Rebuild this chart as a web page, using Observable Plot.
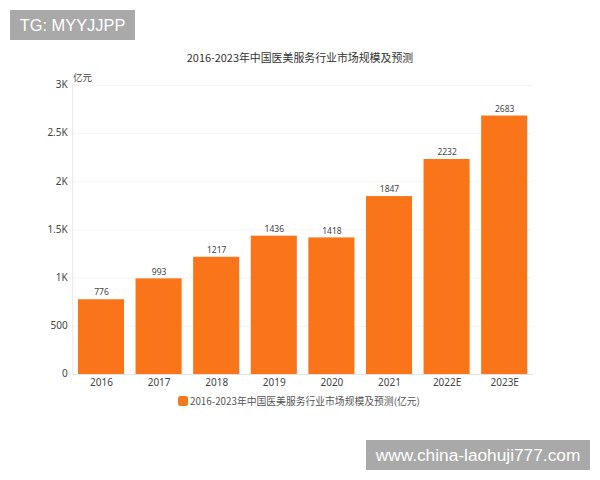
<!DOCTYPE html>
<html><head><meta charset="utf-8">
<script src="https://cdn.jsdelivr.net/npm/d3@7"></script>
<script src="https://cdn.jsdelivr.net/npm/@observablehq/plot@0.6"></script>
<style>
html,body{margin:0;padding:0;background:#fff;width:600px;height:480px;overflow:hidden}
#wrap{position:relative;width:600px;height:480px;font-family:"Noto Sans CJK SC","Noto Sans",sans-serif}
#wrap svg{position:absolute;left:0;top:0}
.abs{position:absolute;white-space:nowrap}
.wm{background:#a9a9a9;color:#fff;font-family:"Liberation Sans",sans-serif;line-height:30px;text-align:center;height:30px}
</style></head><body><div id="wrap">
<div class="abs wm" style="left:10px;top:10px;width:125px;font-size:16.4px">TG: MYYJJPP</div>
<div class="abs wm" style="left:366px;top:440px;width:224px;font-size:17.3px">www.china-laohuji777.com</div>
<div class="abs" style="left:0;width:600px;text-align:center;top:49px;font-size:10.9px;line-height:16px;color:#333" id="title"></div>
<div class="abs" style="left:73px;top:70px;font-size:9.5px;line-height:14px;color:#444">亿元</div>
<div class="abs" style="left:178px;top:394px;font-size:9.8px;line-height:14px;color:#555;display:flex;align-items:center"><span style="display:inline-block;width:10px;height:10px;border-radius:2.5px;background:#f7781e;margin-right:2px"></span><span id="legend"></span></div>
</div>
<script>
const titleText = "2016-2023年中国医美服务行业市场规模及预测";
const legendText = "2016-2023年中国医美服务行业市场规模及预测(亿元)";
const years = ["2016","2017","2018","2019","2020","2021","2022E","2023E"];
const values = [776,993,1217,1436,1418,1847,2232,2683];
const yTicks = [0,500,1000,1500,2000,2500,3000];
const yLabels = ["0","500","1K","1.5K","2K","2.5K","3K"];
const rows = years.map((year,i)=>({year,value:values[i]}));
document.getElementById("title").textContent = titleText;
document.getElementById("legend").textContent = legendText;
const chart = Plot.plot({
  width:600,height:480,
  marginTop:85,marginBottom:106,marginLeft:72.2,marginRight:67,
  style:{background:"transparent",fontFamily:'"Noto Sans","Noto Sans CJK SC",sans-serif'},
  x:{domain:years,paddingInner:0.2,paddingOuter:0.1,round:false,label:null},
  y:{domain:[0,3000],label:null},
  marks:[
    Plot.gridY(yTicks.slice(1),{stroke:"#f5f5f5",strokeOpacity:1}),
    Plot.barY(rows,{x:"year",y:"value",fill:"#fa7419"}),
    Plot.ruleY([0],{stroke:"#e3e3e3"}),
    Plot.frame({anchor:"left",stroke:"#e8e8e8"}),
    Plot.axisY({ticks:yTicks,tickSize:0,tickPadding:5,dy:-0.5,tickFormat:d=>yLabels[yTicks.indexOf(d)],fontSize:10,fill:"#444",label:null}),
    Plot.axisX({tickSize:0,tickPadding:4,fontSize:10,fill:"#444",label:null}),
    Plot.text(rows,{x:"year",y:"value",text:d=>String(d.value),dy:-7,fontSize:8.5,fill:"#444"})
  ]
});
document.getElementById("wrap").prepend(chart);
</script></body></html>
